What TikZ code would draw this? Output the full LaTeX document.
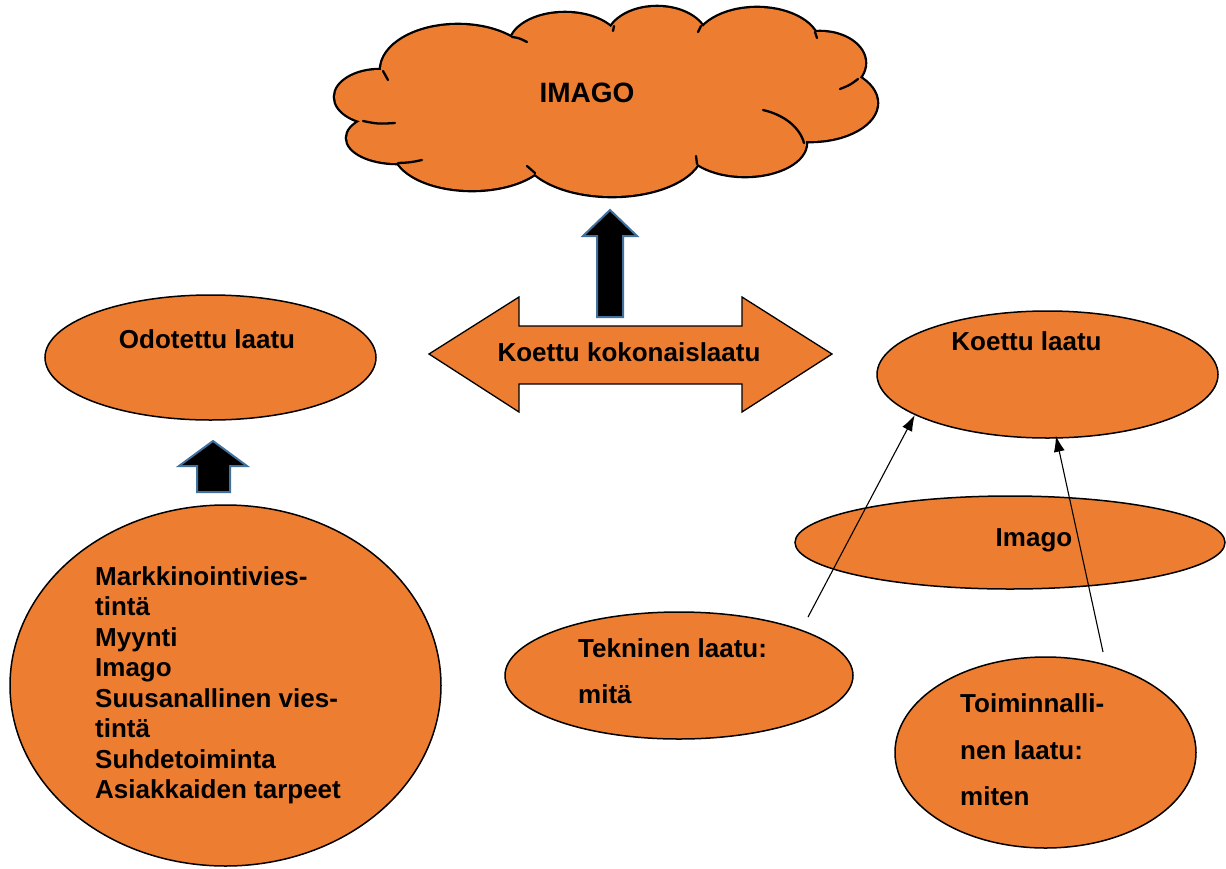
\documentclass[tikz,border=0pt]{standalone}
\usepackage{fontspec}
\setmainfont{Liberation Sans}
\usetikzlibrary{shapes.geometric,arrows.meta}
\definecolor{fillorange}{HTML}{ED7D31}
\definecolor{arrowedge}{RGB}{65,113,156}
\begin{document}
\begin{tikzpicture}[x=1pt,y=-1pt,
  oval/.style={ellipse, draw=black, line width=1.5pt, fill=fillorange, inner sep=0pt},
  lbl/.style={font=\fontsize{26}{30.5}\selectfont\bfseries, inner sep=0pt},
  blockarrow/.style={fill=black, draw=arrowedge, line width=2pt, line join=miter},
  link/.style={line width=1.1pt, -{Latex[length=16pt,width=11pt]}},
  puff/.style={line width=2.3pt, line cap=round}]
\useasboundingbox (0,0) rectangle (1226,868);

% ---- cloud: union of puffs, outline first, then fill on top
\def\puffs{380/97/45/27, 397/138/50/25, 472/150/78/40, 612/150/90/46,
  745/143/61/33, 810/103/67/38, 820/63/45/31, 757/45/62/37,
  657/40/50/33, 565/45/55/32, 458/70/77/45}
\foreach \cx/\cy/\rx/\ry in \puffs
  \draw[line width=4.6pt] (\cx,\cy) ellipse [x radius=\rx pt, y radius=\ry pt];
\foreach \cx/\cy/\rx/\ry in \puffs
  \fill[fillorange] (\cx,\cy) ellipse [x radius=\rx pt, y radius=\ry pt];
\fill[fillorange] (610,100) ellipse [x radius=230pt, y radius=55pt];
% inner arc ends of the puffs
\draw[puff] (383,71) .. controls (385,75) .. (388,80);
\draw[puff] (512,37) .. controls (519,38) .. (527,42);
\draw[puff] (614,26) -- (613,31);
\draw[puff] (701,26) -- (698,32);
\draw[puff] (815,32) -- (817,38);
\draw[puff] (858,79) .. controls (850,85) .. (840,89);
\draw[puff] (763,110) .. controls (785,115) and (800,128) .. (804,143);
\draw[puff] (697,164) -- (696,156);
\draw[puff] (535,173) .. controls (531,170) .. (527,166);
\draw[puff] (398,163) .. controls (410,162.5) .. (422,160);
\draw[puff] (363,121) .. controls (378,124) .. (395,123);
\node[lbl, font=\fontsize{28}{30}\selectfont\bfseries] (imagoT) at (587,93) {IMAGO};

% ---- block arrows
\draw[blockarrow] (610,210) -- (637,236) -- (623,236) -- (623,317) -- (597,317)
  -- (597,236) -- (583,236) -- cycle;
\draw[blockarrow] (213,441) -- (247,466) -- (230,466) -- (230,492) -- (197,492)
  -- (197,466) -- (179,466) -- cycle;
\draw[line width=1.3pt, fill=fillorange, line join=miter]
  (429,354) -- (519,297) -- (519,326) -- (742,326) -- (742,297) -- (832,354)
  -- (742,412) -- (742,384) -- (519,384) -- (519,412) -- cycle;
\node[lbl] (kokonais) at (629,352) {Koettu kokonaislaatu};

% ---- ellipses
\node[oval, minimum width=331pt, minimum height=125pt] (odotettu) at (210.5,357.5) {};
\node[lbl] (odotettuT) at (207,339) {Odotettu laatu};

\node[oval, minimum width=431pt, minimum height=361pt] (tekijat) at (225.5,685.5) {};
\node[lbl, align=left, anchor=north west] (tekijatT) at (95,566.4)
  {Markkinointivies-\\tintä\\Myynti\\Imago\\Suusanallinen vies-\\tintä\\Suhdetoiminta\\Asiakkaiden tarpeet};

\node[oval, minimum width=341pt, minimum height=127pt] (koettu) at (1047.5,374.5) {};
\node[lbl] (koettuT) at (1026.5,341) {Koettu laatu};

\node[oval, minimum width=430pt, minimum height=93pt] (imago) at (1010,542.5) {};
\node[lbl, anchor=base] (imagoS) at (1034,546) {Imago};

\node[oval, minimum width=348pt, minimum height=127pt] (tekninen) at (679,675.5) {};
\node[lbl, font=\fontsize{26}{46}\selectfont\bfseries, align=left, anchor=north west]
  (tekninenT) at (578,638.4) {Tekninen laatu:\\mitä};

\node[oval, minimum width=301pt, minimum height=191pt] (toiminnal) at (1045.5,752.5) {};
\node[lbl, font=\fontsize{26}{46.5}\selectfont\bfseries, align=left, anchor=north west]
  (toiminnalT) at (960,693.7) {Toiminnalli-\\nen laatu:\\miten};

% ---- thin connectors
\coordinate (s1) at (808,617);
\coordinate (s2) at (1103,652);
\draw[link] (s1) -- (koettu.197);
\draw[link, shorten >=-3pt] (s2) -- (koettu.278);
\end{tikzpicture}
\end{document}
